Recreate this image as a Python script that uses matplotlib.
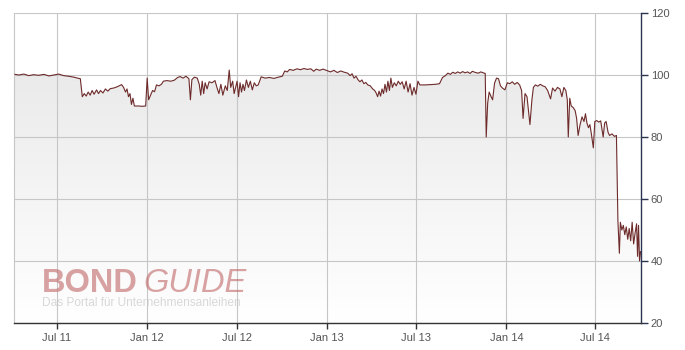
import numpy as np
import pandas as pd
import matplotlib
matplotlib.use("Agg")
from matplotlib import pyplot as plt
from matplotlib.colors import LinearSegmentedColormap

# price history
dates = [
    "2011-04-07", "2011-04-15", "2011-04-25", "2011-05-05", "2011-05-15", "2011-05-25",
    "2011-06-05", "2011-06-15", "2011-06-25", "2011-07-05", "2011-07-15", "2011-07-25",
    "2011-08-05", "2011-08-12", "2011-08-18", "2011-08-22", "2011-08-26", "2011-08-30",
    "2011-09-03", "2011-09-07", "2011-09-11", "2011-09-15", "2011-09-20", "2011-09-24",
    "2011-09-28", "2011-10-03", "2011-10-08", "2011-10-13", "2011-10-18", "2011-10-25",
    "2011-11-01", "2011-11-06", "2011-11-10", "2011-11-14", "2011-11-18", "2011-11-21",
    "2011-11-24", "2011-11-27", "2011-11-30", "2011-12-03", "2011-12-06", "2011-12-15",
    "2011-12-22", "2011-12-29", "2012-01-01", "2012-01-04", "2012-01-08", "2012-01-12",
    "2012-01-16", "2012-01-20", "2012-01-25", "2012-01-30", "2012-02-03", "2012-02-10",
    "2012-02-18", "2012-02-25", "2012-03-03", "2012-03-08", "2012-03-14", "2012-03-20",
    "2012-03-26", "2012-03-29", "2012-04-01", "2012-04-06", "2012-04-12", "2012-04-16",
    "2012-04-19", "2012-04-22", "2012-04-25", "2012-04-28", "2012-05-02", "2012-05-06",
    "2012-05-12", "2012-05-18", "2012-05-22", "2012-05-26", "2012-05-30", "2012-06-03",
    "2012-06-08", "2012-06-12", "2012-06-16", "2012-06-19", "2012-06-23", "2012-06-26",
    "2012-07-02", "2012-07-05", "2012-07-08", "2012-07-11", "2012-07-14", "2012-07-17",
    "2012-07-21", "2012-07-25", "2012-07-29", "2012-08-02", "2012-08-06", "2012-08-10",
    "2012-08-14", "2012-08-20", "2012-08-28", "2012-09-06", "2012-09-15", "2012-09-24",
    "2012-10-02", "2012-10-07", "2012-10-12", "2012-10-17", "2012-10-24", "2012-11-01",
    "2012-11-08", "2012-11-15", "2012-11-22", "2012-11-29", "2012-12-05", "2012-12-10",
    "2012-12-17", "2012-12-24", "2013-01-01", "2013-01-08", "2013-01-15", "2013-01-22",
    "2013-01-29", "2013-02-05", "2013-02-12", "2013-02-17", "2013-02-21", "2013-02-25",
    "2013-03-01", "2013-03-05", "2013-03-09", "2013-03-13", "2013-03-17", "2013-03-21",
    "2013-03-25", "2013-03-30", "2013-04-04", "2013-04-08", "2013-04-11", "2013-04-14",
    "2013-04-17", "2013-04-20", "2013-04-23", "2013-04-26", "2013-04-29", "2013-05-02",
    "2013-05-05", "2013-05-08", "2013-05-11", "2013-05-14", "2013-05-18", "2013-05-22",
    "2013-05-26", "2013-05-30", "2013-06-03", "2013-06-07", "2013-06-11", "2013-06-15",
    "2013-06-19", "2013-06-23", "2013-06-27", "2013-07-01", "2013-07-05", "2013-07-09",
    "2013-07-20", "2013-07-30", "2013-08-10", "2013-08-18", "2013-08-24", "2013-08-30",
    "2013-09-04", "2013-09-09", "2013-09-14", "2013-09-19", "2013-09-24", "2013-09-29",
    "2013-10-04", "2013-10-09", "2013-10-14", "2013-10-19", "2013-10-24", "2013-10-30",
    "2013-11-05", "2013-11-10", "2013-11-15", "2013-11-19", "2013-11-21", "2013-11-24",
    "2013-11-27", "2013-12-01", "2013-12-04", "2013-12-08", "2013-12-12", "2013-12-16",
    "2013-12-20", "2013-12-24", "2013-12-29", "2014-01-03", "2014-01-08", "2014-01-13",
    "2014-01-18", "2014-01-23", "2014-01-28", "2014-02-01", "2014-02-04", "2014-02-08",
    "2014-02-12", "2014-02-18", "2014-02-22", "2014-02-25", "2014-03-01", "2014-03-06",
    "2014-03-11", "2014-03-16", "2014-03-21", "2014-03-26", "2014-04-01", "2014-04-05",
    "2014-04-10", "2014-04-15", "2014-04-20", "2014-04-24", "2014-04-28", "2014-05-02",
    "2014-05-05", "2014-05-07", "2014-05-10", "2014-05-13", "2014-05-17", "2014-05-21",
    "2014-05-24", "2014-05-27", "2014-05-31", "2014-06-04", "2014-06-08", "2014-06-11",
    "2014-06-14", "2014-06-17", "2014-06-20", "2014-06-23", "2014-06-27", "2014-06-30",
    "2014-07-04", "2014-07-08", "2014-07-12", "2014-07-15", "2014-07-17", "2014-07-20",
    "2014-07-23", "2014-07-27", "2014-07-30", "2014-08-04", "2014-08-09", "2014-08-13",
    "2014-08-16", "2014-08-19", "2014-08-21", "2014-08-24", "2014-08-27", "2014-08-30",
    "2014-09-02", "2014-09-05", "2014-09-08", "2014-09-11", "2014-09-14", "2014-09-17",
    "2014-09-20", "2014-09-23", "2014-09-25", "2014-09-27", "2014-09-29", "2014-10-01",
]
prices = [
    100.2, 100.0, 100.3, 99.8, 100.1, 99.9,
    100.2, 99.7, 100.0, 100.3, 99.8, 99.6,
    99.3, 99.0, 98.8, 93.0, 94.0, 93.2,
    94.5, 93.5, 95.0, 93.8, 95.2, 94.0,
    95.0, 94.2, 95.5, 94.8, 95.6, 95.8,
    96.2, 96.6, 96.9, 96.0, 94.5, 95.5,
    93.0, 94.0, 90.5, 92.5, 90.0, 90.0,
    89.9, 90.0, 99.0, 92.0, 93.5, 95.0,
    94.6, 96.8, 96.5, 97.0, 98.0, 98.2,
    98.0, 98.3, 99.2, 99.5, 99.0, 99.6,
    98.8, 92.0, 98.5, 99.3, 99.0, 97.0,
    93.5, 98.0, 94.0, 97.5, 95.5, 97.8,
    97.5, 98.2, 96.0, 94.0, 97.0, 93.5,
    96.5, 95.0, 101.6, 96.0, 98.0, 94.0,
    98.0, 93.0, 97.5, 94.5, 97.0, 95.0,
    98.4, 96.0, 98.0, 95.2, 97.5, 96.5,
    96.8, 99.4, 99.0, 99.2, 98.9, 99.3,
    99.6, 101.3, 101.0, 101.8, 101.5, 102.0,
    101.7, 102.1, 101.8, 102.0, 101.2, 101.9,
    101.5, 101.9, 101.4, 101.0, 101.5, 100.8,
    101.3, 100.9, 100.6, 99.8, 100.4, 99.0,
    99.6, 98.5, 97.8, 98.4, 97.2, 97.6,
    96.8, 96.5, 95.5, 95.0, 94.2, 93.0,
    94.8, 93.2, 95.5, 94.0, 97.0, 94.5,
    98.0, 95.0, 99.0, 96.0, 97.5, 96.5,
    98.0, 97.0, 97.8, 95.5, 98.0, 94.5,
    97.2, 93.5, 96.0, 93.8, 98.0, 96.8,
    96.8, 96.9, 97.0, 97.2, 99.2, 99.8,
    100.6, 100.2, 100.9, 100.5, 101.0, 100.6,
    101.1, 100.7, 101.0, 100.5, 101.2, 100.8,
    100.6, 101.0, 100.7, 100.5, 80.0, 91.0,
    94.5, 93.0, 92.0, 97.4, 99.0, 98.8,
    96.5, 95.8, 95.2, 97.5, 97.2, 97.8,
    97.0, 97.6, 96.8, 95.0, 86.0, 94.0,
    93.0, 84.0, 92.0, 96.0, 96.8, 96.4,
    97.0, 96.5, 96.2, 95.0, 92.3, 95.8,
    94.8, 96.0, 95.5, 93.0, 96.0, 95.0,
    92.0, 80.0, 92.5, 90.0, 89.5, 88.5,
    86.0, 80.5, 84.0, 86.5, 85.0, 87.5,
    84.5, 83.0, 84.0, 81.0, 76.5, 85.0,
    85.3, 84.8, 85.2, 82.0, 80.0, 84.5,
    85.0, 81.5, 80.5, 81.0, 80.2, 80.5,
    53.0, 42.5, 52.5, 50.0, 51.5, 48.5,
    51.0, 47.0, 50.5, 46.5, 52.5, 45.5,
    49.0, 52.0, 41.5, 51.5, 40.0, 43.0,
]

tick_dates = ["2011-07-01", "2012-01-01", "2012-07-01", "2013-01-01",
              "2013-07-01", "2014-01-01", "2014-07-01"]
tick_labels = ["Jul 11", "Jan 12", "Jul 12", "Jan 13", "Jul 13", "Jan 14", "Jul 14"]
y_ticks = [20, 40, 60, 80, 100, 120]

x = pd.to_datetime(dates)
y = np.array(prices)
x_min = pd.Timestamp("2011-04-05")
x_max = pd.Timestamp("2014-10-02")

fig = plt.figure(figsize=(6.85, 3.5), dpi=100)
ax = fig.add_axes([14 / 685, 27 / 350, 627 / 685, 310 / 350])

# gray gradient under the line
poly = ax.fill_between(x, y, 20, color="none", lw=0)
cmap = LinearSegmentedColormap.from_list("fade", ["#ffffff", "#e8e8e8"])
grad = np.linspace(0, 1, 256).reshape(-1, 1)
im = ax.imshow(grad, extent=[matplotlib.dates.date2num(x_min), matplotlib.dates.date2num(x_max), 20, 110],
               aspect="auto", cmap=cmap, origin="lower", zorder=1)
im.set_clip_path(poly.get_paths()[0], transform=ax.transData)

ax.plot(x, y, color="#6e2b2b", lw=0.8, zorder=3)

ax.set_xlim(x_min, x_max)
ax.set_ylim(20, 120)
ax.set_xticks(pd.to_datetime(tick_dates))
ax.set_xticklabels(tick_labels)
ax.set_yticks(y_ticks)
ax.yaxis.tick_right()
ax.grid(True, color="#c6c6c6", lw=0.8, zorder=2)
ax.set_axisbelow(False)

ax.spines["top"].set_visible(False)
ax.spines["left"].set_color("#c6c6c6")
ax.spines["left"].set_linewidth(0.8)
ax.spines["bottom"].set_color("#333333")
ax.spines["right"].set_color("#2b3550")
for s in ["bottom", "right"]:
    ax.spines[s].set_linewidth(1.0)
    ax.spines[s].set_zorder(4)

ax.tick_params(axis="x", length=4, width=1, color="#333333", labelcolor="#555555",
               labelsize=8, pad=3)
ax.tick_params(axis="y", length=5, width=1, color="#2b3550", labelcolor="#555555",
               labelsize=8, pad=2, right=True, left=False)
for lab in ax.get_xticklabels() + ax.get_yticklabels():
    lab.set_fontfamily("Liberation Sans")

# watermark (semi-transparent so the grid shows through)
fig.text(42 / 685, 58 / 350, "BOND", fontsize=23.5, fontweight="bold", color="#c06666",
         alpha=0.6, family="Liberation Sans", va="baseline", zorder=5)
fig.text(143 / 685, 58 / 350, "GUIDE", fontsize=23.5, style="italic", color="#c06666",
         alpha=0.6, family="Liberation Sans", va="baseline", zorder=5)
fig.text(42 / 685, 44 / 350, "Das Portal für Unternehmensanleihen", fontsize=8.6,
         color="#c8c8c8", alpha=0.7, family="Liberation Sans", va="baseline", zorder=5)

fig.savefig("out.png", dpi=100)
